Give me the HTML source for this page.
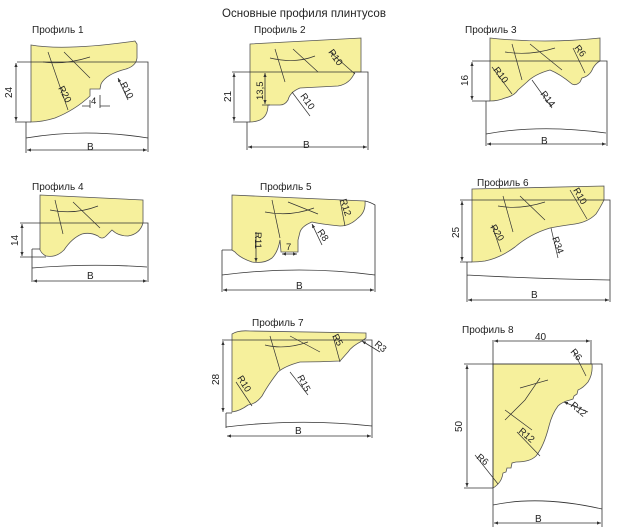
<!DOCTYPE html>
<html><head><meta charset="utf-8"><style>
html,body{margin:0;padding:0;background:#fff;width:623px;height:531px;overflow:hidden}
svg{display:block}
text{font-family:"Liberation Sans","DejaVu Sans",sans-serif;fill:#222}
.y{fill:#f6f09c;stroke:#555;stroke-width:0.8}
.l{fill:none;stroke:#333;stroke-width:0.8}
.h{fill:none;stroke:#333;stroke-width:0.7}
.t{font-size:10px}
.s{font-size:9.5px}
</style></head><body>
<svg width="623" height="531" viewBox="0 0 623 531" xmlns="http://www.w3.org/2000/svg">
<defs><marker id="a" markerWidth="6" markerHeight="6" refX="5" refY="3" orient="auto-start-reverse"><path d="M0,1 L5,3 L0,5Z" fill="#333"/></marker></defs>
<text x="304" y="17" text-anchor="middle" style="font-size:11.5px">Основные профиля плинтусов</text>

<!-- Profile 1 -->
<text x="32" y="33" class="t">Профиль 1</text>
<path class="y" d="M31,45 C60,50 100,46 135,41 L137,44 L137,58 Q136,66 126,69 Q106,74 101,84 L100,89 L90,89 L90,96 Q75,110 55,118 Q42,122 31,122 Z"/>
<path class="l" d="M17,62 H148 V152 M26,122 V153 M26,138 Q85,128 148,138 M15,122 H31"/>
<path class="l" marker-start="url(#a)" marker-end="url(#a)" d="M27,150 H147"/>
<path class="l" marker-start="url(#a)" marker-end="url(#a)" d="M16,63 V121"/>
<path class="l" d="M82,106 L90,106 M100,106 L110,106 M90,100 V108 M100,95 V108"/>
<path class="h" d="M48,52 L68,110 M64,52 L90,78 M43,62 Q65,65 90,57"/>
<path class="l" d="M118,78 L128,100" marker-start="url(#a)"/>
<text x="87" y="150" class="t">B</text>
<text transform="translate(12,98) rotate(-90)" class="t">24</text>
<text x="91" y="104" class="s">4</text>
<text transform="translate(58,88) rotate(62)" class="s">R20</text>
<text transform="translate(120,84) rotate(62)" class="s">R10</text>

<!-- Profile 2 -->
<text x="254" y="33" class="t">Профиль 2</text>
<path class="y" d="M250,44 L361,38 L361,72 L355,72 Q350,84 338,86 L300,88 Q290,92 288,100 Q285,105 280,105 L268,105 Q268,116 260,120 Q255,122 250,122 Z"/>
<path class="l" d="M232,72 H368 V150 M247,122 V150 M233,122 H250 M262,105 H270"/>
<path class="l" marker-start="url(#a)" marker-end="url(#a)" d="M248,147 H367"/>
<path class="l" marker-start="url(#a)" marker-end="url(#a)" d="M234,73 V121"/>
<path class="l" marker-start="url(#a)" marker-end="url(#a)" d="M265,73 V104"/>
<path class="h" d="M275,49 L285,82 M293,49 L318,72 M270,58 Q295,64 315,56 M330,52 L355,74 M292,92 L310,116"/>
<text x="303" y="148" class="t">B</text>
<text transform="translate(231,102) rotate(-90)" class="t">21</text>
<text transform="translate(263,100) rotate(-90)" class="s">13,5</text>
<text transform="translate(328,52) rotate(55)" class="s">R10</text>
<text transform="translate(300,96) rotate(55)" class="s">R10</text>

<!-- Profile 3 -->
<text x="465" y="33" class="t">Профиль 3</text>
<path class="y" d="M490,38 Q545,44 600,38 L600,61 Q596,63 593,68 Q590,76 582,78 L580,82 Q576,86 572,84 Q560,74 550,70 Q535,74 527,82 L518,90 Q514,96 505,98 Q498,101 490,101 Z"/>
<path class="l" d="M472,61 H607 V146 M486,101 V146 M472,101 H490 M486,134 Q540,124 606,133"/>
<path class="l" marker-start="url(#a)" marker-end="url(#a)" d="M487,144 H606"/>
<path class="l" marker-start="url(#a)" marker-end="url(#a)" d="M472,62 V100"/>
<path class="h" d="M512,44 L522,80 M530,44 L562,70 M505,52 Q530,56 555,48 M573,48 L585,73 M492,67 L512,94 M532,80 L552,108"/>
<text x="541" y="144" class="t">B</text>
<text transform="translate(468,86) rotate(-90)" class="t">16</text>
<text transform="translate(493,70) rotate(52)" class="s">R10</text>
<text transform="translate(540,94) rotate(52)" class="s">R14</text>
<text transform="translate(574,48) rotate(52)" class="s">R6</text>

<!-- Profile 4 -->
<text x="32" y="190" class="t">Профиль 4</text>
<path class="y" d="M40,195 L143,200 L143,223 Q140,234 128,236 Q118,236 112,230 L106,236 Q102,240 98,236 Q90,232 82,234 Q72,238 64,250 Q56,258 46,256 Q42,254 40,250 Z"/>
<path class="l" d="M20,223 H148 V282 M32,249 V282 M32,249 H40 M20,257 H46 M32,268 Q90,263 147,267"/>
<path class="l" marker-start="url(#a)" marker-end="url(#a)" d="M33,281 H147"/>
<path class="l" marker-start="url(#a)" marker-end="url(#a)" d="M22,224 V256"/>
<path class="h" d="M55,200 L63,234 M73,202 L100,228 M50,210 Q75,215 98,206"/>
<text x="87" y="279" class="t">B</text>
<text transform="translate(18,246) rotate(-90)" class="t">14</text>

<!-- Profile 5 -->
<text x="260" y="190" class="t">Профиль 5</text>
<path class="y" d="M232,195 L365,201 Q366,212 358,218 Q350,226 340,226 Q320,224 312,222 Q302,226 300,232 L298,240 L298,252 L281,252 L280,240 Q278,252 272,258 Q264,264 252,262 Q240,258 235,252 L232,250 Z"/>
<path class="l" d="M365,201 Q370,202 375,205 V292 M222,250 V292 M222,250 H232 M222,275 Q300,265 375,275"/>
<path class="l" marker-start="url(#a)" marker-end="url(#a)" d="M223,290 H374"/>
<path class="l" marker-start="url(#a)" marker-end="url(#a)" d="M282,254 H297"/>
<path class="l" marker-end="url(#a)" d="M256,232 V262"/>
<path class="l" marker-start="url(#a)" d="M312,224 L322,245"/>
<path class="h" d="M272,200 L280,238 M288,202 L318,214 M265,212 Q290,217 314,208 M340,200 L345,226"/>
<text x="296" y="289" class="t">B</text>
<text x="286" y="250" class="s">7</text>
<text transform="translate(255,232) rotate(90)" class="s">R11</text>
<text transform="translate(317,232) rotate(55)" class="s">R8</text>
<text transform="translate(340,200) rotate(72)" class="s">R12</text>

<!-- Profile 6 -->
<text x="477" y="186" class="t">Профиль 6</text>
<path class="y" d="M472,189 L604,186 L604,200 Q600,208 596,214 Q588,222 575,224 Q560,226 550,228 Q530,234 515,247 Q500,258 485,261 Q478,262 472,262 Z"/>
<path class="l" d="M460,200 H610 V302 M467,262 V302 M460,262 H472 M467,275 Q540,279 610,280"/>
<path class="l" marker-start="url(#a)" marker-end="url(#a)" d="M468,300 H609"/>
<path class="l" marker-start="url(#a)" marker-end="url(#a)" d="M462,201 V261"/>
<path class="h" d="M503,196 L513,232 M520,196 L545,220 M498,206 Q520,210 545,202 M570,190 L587,219 M492,225 L501,252 M551,228 L558,258"/>
<text x="531" y="298" class="t">B</text>
<text transform="translate(459,238) rotate(-90)" class="t">25</text>
<text transform="translate(490,227) rotate(58)" class="s">R20</text>
<text transform="translate(552,238) rotate(70)" class="s">R34</text>
<text transform="translate(573,190) rotate(60)" class="s">R10</text>

<!-- Profile 7 -->
<text x="252" y="326" class="t">Профиль 7</text>
<path class="y" d="M232,334 Q238,330 250,331 L366,333 L366,338 L362,341 Q352,346 348,352 L340,361 Q320,362 300,362 Q285,366 278,372 Q268,385 262,396 Q256,404 248,405 Q240,411 232,412 Z"/>
<path class="l" d="M222,340 H372 V438 M226,413 V428 M226,413 H232 M226,427 Q300,418 372,426"/>
<path class="l" marker-start="url(#a)" marker-end="url(#a)" d="M227,436 H371"/>
<path class="l" marker-start="url(#a)" marker-end="url(#a)" d="M223,341 V412"/>
<path class="l" marker-start="url(#a)" d="M362,341 L380,352"/>
<path class="h" d="M270,336 L280,370 M290,336 L320,352 M265,345 Q285,350 308,342 M333,336 L340,362 M236,382 L252,406 M290,372 L308,395"/>
<text x="295" y="434" class="t">B</text>
<text transform="translate(219,385) rotate(-90)" class="t">28</text>
<text transform="translate(237,378) rotate(58)" class="s">R10</text>
<text transform="translate(297,377) rotate(62)" class="s">R15</text>
<text transform="translate(332,336) rotate(62)" class="s">R5</text>
<text transform="translate(374,345) rotate(40)" class="s">R3</text>

<!-- Profile 8 -->
<text x="462" y="333" class="t">Профиль 8</text>
<path class="y" d="M493,364 L592,364 Q593,374 588,382 Q583,388 578,390 L577,394 L574,396 L573,399 L570,400 Q562,402 558,406 Q552,414 549,426 Q544,446 536,456 Q530,462 516,462 L512,463 L511,468 L507,468 L506,472 L503,473 Q502,480 498,484 Q495,487 493,488 Z"/>
<path class="l" d="M464,364 H602 V527 M493,340 V527 M464,488 H493 M591,340 V364 M493,505 Q540,495 602,509"/>
<path class="l" marker-start="url(#a)" marker-end="url(#a)" d="M494,341 H590"/>
<path class="l" marker-start="url(#a)" marker-end="url(#a)" d="M494,523 H601"/>
<path class="l" marker-start="url(#a)" marker-end="url(#a)" d="M467,365 V487"/>
<path class="l" marker-start="url(#a)" d="M564,402 L588,412"/>
<path class="h" d="M520,388 L548,380 M540,378 L525,400 Q515,410 505,420 M505,410 L532,430 M517,432 L540,456 M475,455 L498,484 M573,350 L586,376"/>
<text x="535" y="522" class="t">B</text>
<text x="535" y="340" class="t">40</text>
<text transform="translate(462,432) rotate(-90)" class="t">50</text>
<text transform="translate(476,458) rotate(40)" class="s">R6</text>
<text transform="translate(518,432) rotate(40)" class="s">R12</text>
<text transform="translate(570,406) rotate(40)" class="s">R12</text>
<text transform="translate(570,352) rotate(50)" class="s">R6</text>
</svg>
</body></html>
